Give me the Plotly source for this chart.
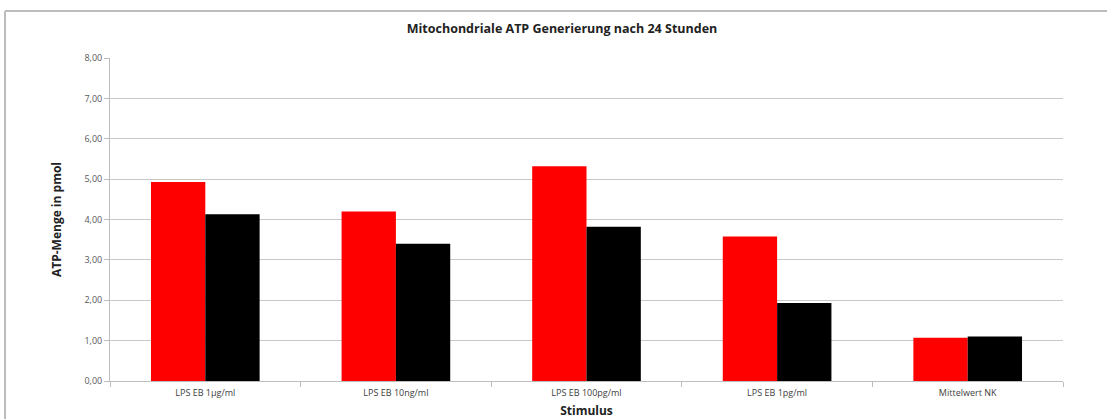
import plotly.graph_objects as go

categories = ["LPS EB 1µg/ml", "LPS EB 10ng/ml", "LPS EB 100pg/ml", "LPS EB 1pg/ml", "Mittelwert NK"]
series_red = [4.93, 4.20, 5.32, 3.58, 1.07]
series_black = [4.13, 3.40, 3.82, 1.93, 1.10]
y_ticks = [0, 1, 2, 3, 4, 5, 6, 7, 8]
y_ticktext = ["0,00", "1,00", "2,00", "3,00", "4,00", "5,00", "6,00", "7,00", "8,00"]

W, H = 1107, 419
ML, MR, MT, MB = 110, 44, 58, 38
pw = W - ML - MR
ph = H - MT - MB

fig = go.Figure()
fig.add_trace(go.Bar(x=categories, y=series_red, marker=dict(color="#FF0000", line=dict(width=0)), name="A"))
fig.add_trace(go.Bar(x=categories, y=series_black, marker=dict(color="#000000", line=dict(width=0)), name="B"))

font_family = "Open Sans, DejaVu Sans Condensed, sans-serif"

def px_x(p):
    return (p - ML) / pw

def px_y(p):
    return (H - MB - p) / ph

border = "#BDBDBD"
fig.add_shape(type="line", xref="paper", yref="paper", x0=px_x(5), x1=px_x(1110), y0=px_y(11), y1=px_y(11),
              line=dict(color=border, width=2))
fig.add_shape(type="line", xref="paper", yref="paper", x0=px_x(5), x1=px_x(5), y0=px_y(11), y1=px_y(425),
              line=dict(color=border, width=2))

fig.update_layout(
    width=W, height=H,
    margin=dict(l=ML, r=MR, t=MT, b=MB, pad=0, autoexpand=False),
    paper_bgcolor="white", plot_bgcolor="white",
    barmode="group", bargap=0.43, bargroupgap=0,
    showlegend=False,
    title=dict(text="<b>Mitochondriale ATP Generierung nach 24 Stunden</b>", x=562 / W, xanchor="center",
               y=1 - 29 / H, yanchor="middle", font=dict(family=font_family, size=12.5, color="#222222")),
    font=dict(family=font_family),
)
fig.update_yaxes(
    range=[0, 8], tickvals=y_ticks, ticktext=y_ticktext,
    showgrid=True, gridcolor="#C8C8C8", gridwidth=1,
    showline=True, linecolor="#BDBDBD", linewidth=1,
    ticks="outside", ticklen=5, tickcolor="#BDBDBD",
    tickfont=dict(size=9, color="#595959", family=font_family),
    title=dict(text="<b>ATP-Menge in pmol</b>", font=dict(size=12, color="#222222", family=font_family), standoff=20),
    zeroline=False, automargin=False,
)
fig.update_xaxes(
    showgrid=False, showline=True, linecolor="#BDBDBD", linewidth=1,
    ticks="outside", ticklen=5, tickcolor="#BDBDBD", tickson="boundaries",
    ticklabelstandoff=3,
    tickfont=dict(size=9, color="#404040", family=font_family),
    title=dict(text="<b>Stimulus</b>", font=dict(size=12, color="#222222", family=font_family), standoff=9),
    automargin=False,
)

fig.write_html("out.html", config={"displayModeBar": False},
               post_script="document.body.style.margin='0';document.body.style.overflow='hidden';")
